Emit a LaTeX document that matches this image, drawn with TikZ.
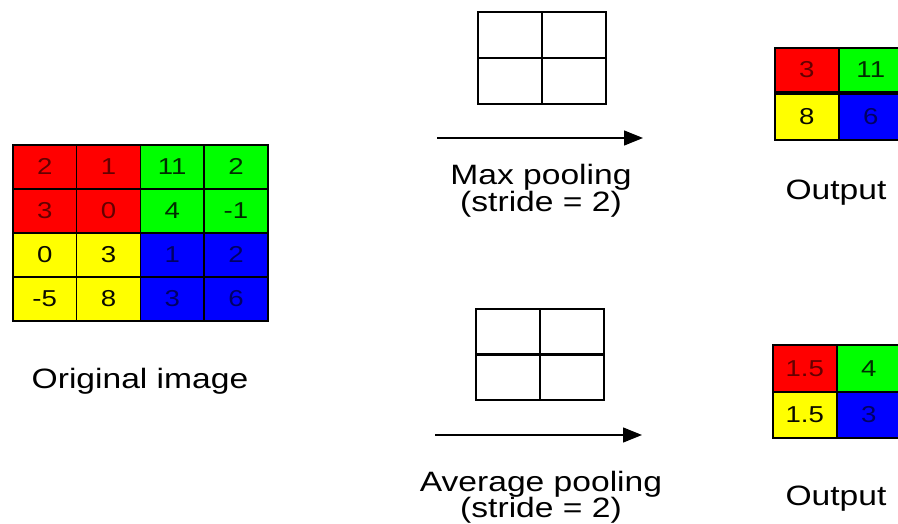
\documentclass[tikz,border=0pt]{standalone}
\usepackage{graphicx}
\usepackage{fontspec}
\setmainfont{Liberation Sans}
\usetikzlibrary{arrows.meta}
\newcommand{\sx}[1]{\scalebox{1.2}[1]{#1}}
\definecolor{cR}{RGB}{255,0,0}
\definecolor{cG}{RGB}{0,255,0}
\definecolor{cY}{RGB}{255,255,0}
\definecolor{cB}{RGB}{0,0,255}
\definecolor{tR}{RGB}{100,0,0}
\definecolor{tG}{RGB}{0,45,0}
\definecolor{tY}{RGB}{10,10,0}
\definecolor{tB}{RGB}{0,0,100}
\tikzset{
  cell/.style={draw=black, line width=1.6pt, minimum width=#1, minimum height=44pt, inner sep=0pt, anchor=north west, font=\fontsize{23}{26}\selectfont},
  win/.style={draw=black, line width=1.6pt, minimum width=64pt, minimum height=46pt, inner sep=0pt, anchor=north west},
  lbl/.style={anchor=base, inner sep=0pt, font=\fontsize{28}{32}\selectfont},
  arr/.style={line width=1.3pt, -{Triangle[length=19pt,width=15pt]}}
}
\begin{document}
\begin{tikzpicture}[x=1pt,y=-1pt]
\useasboundingbox[fill=white] (0,0) rectangle (898,524);
% original image
\node[cell=63.75pt, fill=cR, text=tR] (o11) at (12,144) {\sx{2}};
\node[cell=63.75pt, fill=cR, text=tR] (o12) at (75.75,144) {\sx{1}};
\node[cell=63.75pt, fill=cG, text=tG] (o13) at (139.5,144) {\sx{11}};
\node[cell=63.75pt, fill=cG, text=tG] (o14) at (203.25,144) {\sx{2}};
\node[cell=63.75pt, fill=cR, text=tR] (o21) at (12,188) {\sx{3}};
\node[cell=63.75pt, fill=cR, text=tR] (o22) at (75.75,188) {\sx{0}};
\node[cell=63.75pt, fill=cG, text=tG] (o23) at (139.5,188) {\sx{4}};
\node[cell=63.75pt, fill=cG, text=tG] (o24) at (203.25,188) {\sx{-1}};
\node[cell=63.75pt, fill=cY, text=tY] (o31) at (12,232) {\sx{0}};
\node[cell=63.75pt, fill=cY, text=tY] (o32) at (75.75,232) {\sx{3}};
\node[cell=63.75pt, fill=cB, text=tB] (o33) at (139.5,232) {\sx{1}};
\node[cell=63.75pt, fill=cB, text=tB] (o34) at (203.25,232) {\sx{2}};
\node[cell=63.75pt, fill=cY, text=tY] (o41) at (12,276) {\sx{-5}};
\node[cell=63.75pt, fill=cY, text=tY] (o42) at (75.75,276) {\sx{8}};
\node[cell=63.75pt, fill=cB, text=tB] (o43) at (139.5,276) {\sx{3}};
\node[cell=63.75pt, fill=cB, text=tB] (o44) at (203.25,276) {\sx{6}};
\node[lbl] (orig) at (140,388) {\sx{Original image}};
% max pooling
\node[win] (mw11) at (477,11) {};
\node[win] (mw12) at (541,11) {};
\node[win] (mw21) at (477,57) {};
\node[win] (mw22) at (541,57) {};
\coordinate (ma1) at (437,138);
\coordinate (ma2) at (643,138);
\draw[arr] (ma1) -- (ma2);
\node[lbl] (mlab1) at (541,185) {\sx{Max pooling}};
\node[lbl] (mlab2) at (541,212) {\sx{(stride = 2)}};
\node[cell=64pt, fill=cR, text=tR] (m11) at (774,47) {\sx{3}};
\node[cell=64pt, fill=cG, text=tG] (m12) at (838,47) {\sx{11}};
\node[cell=64pt, fill=cY, text=tY, minimum height=46pt] (m21) at (774,93) {\sx{8}};
\node[cell=64pt, fill=cB, text=tB, minimum height=46pt] (m22) at (838,93) {\sx{6}};
\node[lbl] (mout) at (836,200) {\sx{Output}};
% average pooling
\node[win] (aw11) at (475,308) {};
\node[win] (aw12) at (539,308) {};
\node[win] (aw21) at (475,353) {};
\node[win] (aw22) at (539,353) {};
\coordinate (aa1) at (435,435);
\coordinate (aa2) at (642,435);
\draw[arr] (aa1) -- (aa2);
\node[lbl] (alab1) at (541,491) {\sx{Average pooling}};
\node[lbl] (alab2) at (541,517) {\sx{(stride = 2)}};
\node[cell=64pt, fill=cR, text=tR, minimum height=47pt] (a11) at (772,344) {\sx{1.5}};
\node[cell=64pt, fill=cG, text=tG, minimum height=47pt] (a12) at (836,344) {\sx{4}};
\node[cell=64pt, fill=cY, text=tY, minimum height=46pt] (a21) at (772,391) {\sx{1.5}};
\node[cell=64pt, fill=cB, text=tB, minimum height=46pt] (a22) at (836,391) {\sx{3}};
\node[lbl] (aout) at (836,505) {\sx{Output}};
\end{tikzpicture}
\end{document}
